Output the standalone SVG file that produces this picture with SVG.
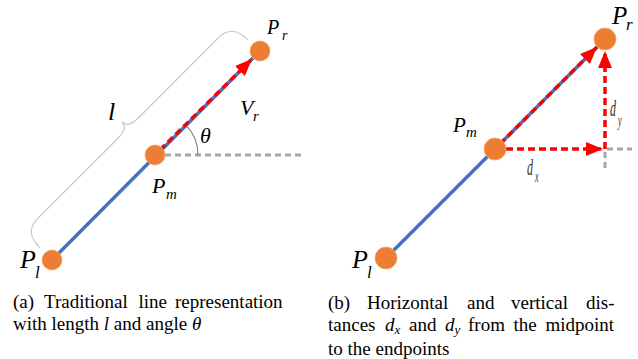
<svg xmlns="http://www.w3.org/2000/svg" width="638" height="359" viewBox="0 0 638 359" font-family="'Liberation Serif', serif">
<style>
.bg{fill:#ffffff}
.pt{fill:#ED7D31;stroke:#F2A673;stroke-width:0.8}
.blue{stroke:#4472C4;stroke-width:3.5;fill:none}
.red{stroke:#FF0000;stroke-width:3.5;stroke-dasharray:7 4;fill:none}
.gray{stroke:#A6A6A6;stroke-width:3;stroke-dasharray:6 4;fill:none}
.arc{stroke:#808080;stroke-width:1.2;fill:none}
.brace{stroke:#C8C8C8;stroke-width:1.2;fill:none}
text{font-family:'Liberation Serif','DejaVu Serif',serif}
.m{font-style:italic;fill:#000}
.d{font-style:italic;fill:#333}
.cap{font-size:19px;fill:#000}
</style>
<defs>
<marker id="ah" markerUnits="userSpaceOnUse" markerWidth="17" markerHeight="14" refX="17" refY="7" orient="auto">
<path d="M0,0 L17,7 L0,14 z" fill="#FF0000"/>
</marker>
</defs>
<rect class="bg" x="0" y="0" width="638" height="359"/>

<g id="connectors">
  <path class="brace" transform="translate(155,155) rotate(-45)" d="M-147,-16 C-147,-30 -142,-38 -128,-38 L-14,-38 C-5,-38 0,-41 0,-47 C0,-41 5,-38 14,-38 L128,-38 C142,-38 147,-30 147,-16"/>
  <line class="blue" x1="52" y1="260" x2="260" y2="51"/>
  <line class="gray" x1="165" y1="155" x2="302" y2="155"/>
  <path class="arc" d="M198,155 A43,43 0 0 0 185.4,124.6"/>
  <line class="red" x1="160" y1="150" x2="252" y2="59" marker-end="url(#ah)"/>
  <line class="blue" x1="386" y1="258" x2="605" y2="39"/>
  <line class="gray" x1="607" y1="149" x2="632" y2="149"/>
  <line class="gray" x1="605" y1="152" x2="605" y2="170"/>
  <line class="red" x1="500" y1="144" x2="597" y2="47" marker-end="url(#ah)"/>
  <line class="red" x1="506" y1="149" x2="603" y2="149" marker-end="url(#ah)"/>
  <line class="red" x1="605" y1="149" x2="605" y2="51" marker-end="url(#ah)"/>
</g>

<g id="a-Pl"><circle class="pt" cx="52" cy="260" r="10"/>
  <text class="m" x="20" y="268" font-size="26">P</text><text class="m" x="35" y="278" font-size="17">l</text></g>
<g id="a-Pm"><circle class="pt" cx="155" cy="155" r="10"/>
  <text class="m" x="152" y="193" font-size="22">P</text><text class="m" x="166" y="199" font-size="15">m</text></g>
<g id="a-Pr"><circle class="pt" cx="260" cy="51" r="10"/>
  <text class="m" x="267" y="34" font-size="20">P</text><text class="m" x="282" y="40" font-size="14">r</text></g>
<g id="a-labels">
  <text class="m" x="108" y="120" font-size="26">l</text>
  <text class="m" x="240" y="115" font-size="22">V</text><text class="m" x="253" y="121" font-size="15">r</text>
  <text class="m" x="200" y="143" font-size="22">θ</text>
</g>

<g id="b-Pl"><circle class="pt" cx="386" cy="258" r="11"/>
  <text class="m" x="352" y="268" font-size="26">P</text><text class="m" x="367" y="278" font-size="17">l</text></g>
<g id="b-Pm"><circle class="pt" cx="495" cy="149" r="11"/>
  <text class="m" x="453" y="132" font-size="21">P</text><text class="m" x="466" y="137" font-size="15">m</text></g>
<g id="b-Pr"><circle class="pt" cx="605" cy="39" r="11"/>
  <text class="m" x="612" y="24" font-size="25">P</text><text class="m" x="626" y="30" font-size="17">r</text></g>
<g id="b-labels">
  <text class="d" transform="translate(527,175) scale(0.5,1)" font-size="24">d</text>
  <text class="d" transform="translate(535,182) scale(0.5,1)" font-size="16">x</text>
  <text class="d" transform="translate(610,116) scale(0.5,1)" font-size="24">d</text>
  <text class="d" transform="translate(618,126) scale(0.5,1)" font-size="16">y</text>
</g>

<g id="caption-a" class="cap">
  <text y="308"><tspan x="13">(a)</tspan><tspan x="44">Traditional</tspan><tspan x="138.5">line</tspan><tspan x="175">representation</tspan></text>
  <text x="13" y="330">with length <tspan font-style="italic">l</tspan> and angle <tspan font-style="italic">θ</tspan></text>
</g>
<g id="caption-b" class="cap">
  <text y="309"><tspan x="328">(b)</tspan><tspan x="367">Horizontal</tspan><tspan x="467">and</tspan><tspan x="511">vertical</tspan><tspan x="586">dis-</tspan></text>
  <text y="331"><tspan x="328">tances</tspan><tspan x="385" font-style="italic">d</tspan><tspan font-style="italic" font-size="13" dy="3">x</tspan><tspan x="409" dy="-3">and</tspan><tspan x="445" font-style="italic">d</tspan><tspan font-style="italic" font-size="13" dy="3">y</tspan><tspan x="468" dy="-3">from</tspan><tspan x="513.5">the</tspan><tspan x="545.5">midpoint</tspan></text>
  <text x="328" y="355">to the endpoints</text>
</g>
</svg>
